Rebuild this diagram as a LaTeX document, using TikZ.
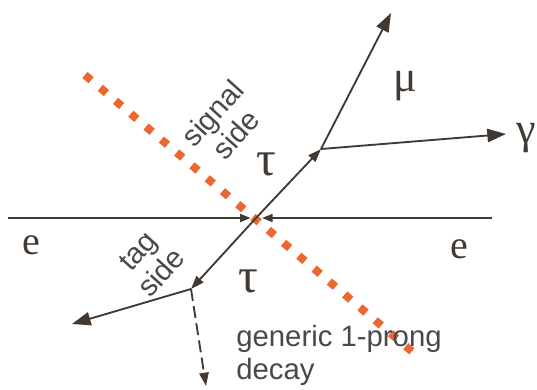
\documentclass[tikz,border=0pt]{standalone}
\usepackage{fontspec}
\setmainfont{Liberation Serif}
\setsansfont{Liberation Sans}
\usetikzlibrary{arrows.meta}

\begin{document}
\begin{tikzpicture}[x=0.75pt, y=-0.75pt]
  % Define colors
  \definecolor{trackcol}{RGB}{66,58,50}
  \definecolor{cutcol}{RGB}{236,102,48}
  \definecolor{textcol}{RGB}{72,72,78}

  \tikzset{
    track/.style={draw=trackcol, line width=1.4pt, -{Triangle[length=14pt, width=10pt]}},
    tautrack/.style={draw=trackcol, line width=1.4pt, -{Triangle[length=10pt, width=7pt]}},
    beam/.style={draw=trackcol, line width=1.4pt, -{Triangle[length=8pt, width=6pt]}},
    particle/.style={font=\fontsize{33}{36}\selectfont, text=trackcol, inner sep=0pt},
    sidelabel/.style={font=\sffamily\fontsize{22}{24}\selectfont, text=textcol, align=center, rotate=48, inner sep=0pt}
  }

  \useasboundingbox (0,0) rectangle (537,390);

  % Vertices
  \coordinate (ip) at (256,218);
  \coordinate (sv) at (321,149);
  \coordinate (tv) at (191,289);
  \coordinate (eL) at (8,218);
  \coordinate (eR) at (492,218);
  \coordinate (muend) at (391,13);
  \coordinate (gend) at (506,134);
  \coordinate (tagend) at (72,324);
  \coordinate (decend) at (206,386);

  % Dividing line between the two sides
  \draw[cutcol, line width=6pt, dash pattern=on 6pt off 9pt] (85,75) -- (421,359);

  % Beams
  \draw[beam, shorten >=4pt] (eL) -- (ip);
  \draw[beam, shorten >=4.5pt] (eR) -- (ip);

  % Tau pair
  \draw[tautrack] (ip) -- (sv);
  \draw[tautrack] (ip) -- (tv);

  % Signal side decay
  \draw[track] (sv) -- (muend);
  \draw[track] (sv) -- (gend);

  % Tag side decay
  \draw[track] (tv) -- (tagend);
  \draw[tautrack, dash pattern=on 9pt off 4pt] (tv) -- (decend);

  % Labels
  \node[particle, font=\fontsize{30}{33}\selectfont] (eleft) at (31,245) {e};
  \node[particle, font=\fontsize{30}{33}\selectfont] (eright) at (459,249) {e};
  \node[particle, font=\fontsize{37}{40}\selectfont] (tauS) at (266,164) {τ};
  \node[particle, font=\fontsize{37}{40}\selectfont] (tauT) at (248,281) {τ};
  \node[particle] (mu) at (405,86) {μ};
  \node[particle] (gam) at (526,138) {γ};
  \node[sidelabel] (sigside) at (224,124) {signal\\side};
  \node[sidelabel] (tagside) at (150,262) {tag\\side};
  \node[font=\sffamily\fontsize{22}{25}\selectfont, text=textcol, align=left, anchor=north west, inner sep=0pt] (generic) at (236,325) {generic 1-prong\\decay};
\end{tikzpicture}
\end{document}
